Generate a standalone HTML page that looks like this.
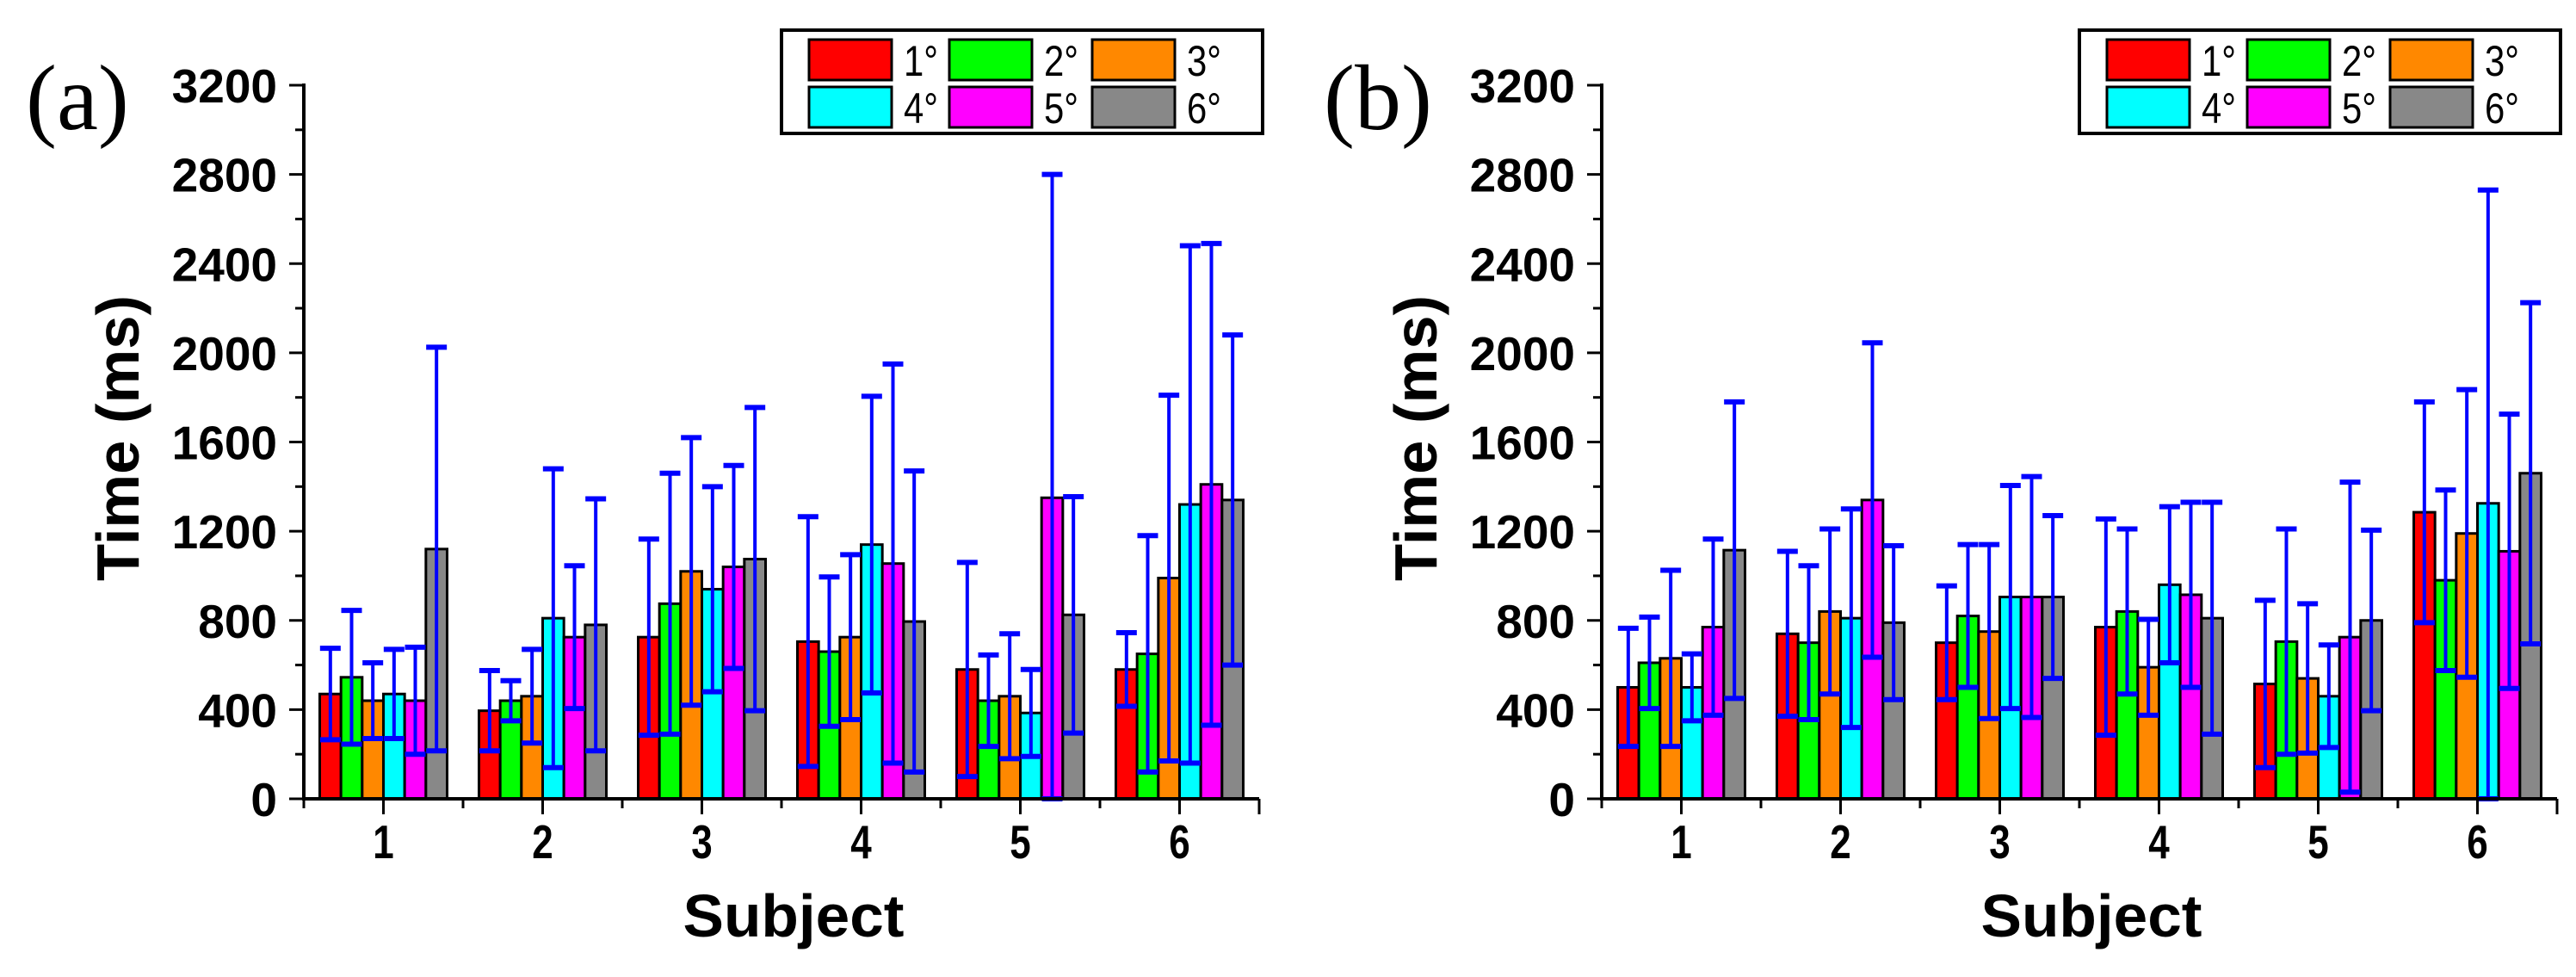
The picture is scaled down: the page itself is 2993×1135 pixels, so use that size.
<!DOCTYPE html>
<html><head><meta charset="utf-8"><style>
html,body{margin:0;padding:0;background:#fff;}
svg{display:block;}
</style></head><body>
<svg id="chart" width="2993" height="1135" viewBox="0 0 2993 1135" xmlns="http://www.w3.org/2000/svg">
<g id="root"></g>
</svg>
<script>
const categories = ["1","2","3","4","5","6"];
const seriesNames = ["1°","2°","3°","4°","5°","6°"];
const seriesColors = ["#ff0000","#00ff00","#ff8800","#00ffff","#ff00ff","#888888"];
const yTicks = [0,400,800,1200,1600,2000,2400,2800,3200];
// panel (a) means per subject (rows) per angle (cols)
const meansA = [
 [470,545,440,470,440,1120],
 [395,440,460,810,725,780],
 [725,875,1020,940,1040,1075],
 [705,660,725,1140,1055,795],
 [580,440,460,385,1350,825],
 [580,650,990,1320,1410,1340]
];
const errA = [
 [205,300,170,200,240,905],
 [180,90,210,670,320,565],
 [440,585,600,460,455,680],
 [560,335,370,665,895,675],
 [480,205,280,195,1450,530],
 [165,530,820,1160,1080,740]
];
const meansB = [
 [500,610,630,500,770,1115],
 [740,700,840,810,1340,790],
 [700,820,750,905,905,905],
 [770,840,590,960,915,810],
 [515,705,540,460,725,800],
 [1285,980,1190,1325,1110,1460]
];
const errB = [
 [265,205,395,150,395,665],
 [370,345,370,490,705,345],
 [255,320,390,500,540,365],
 [485,370,215,350,415,520],
 [375,505,335,230,695,405],
 [495,405,645,1405,615,765]
];

const NS="http://www.w3.org/2000/svg";
const root=document.getElementById('root');
function mk(tag,attrs,parent){const e=document.createElementNS(NS,tag);for(const k in attrs)e.setAttribute(k,attrs[k]);(parent||root).appendChild(e);return e;}

function drawPanel(offset,label,means,errs,key){
  const X0=353+offset, X1=1463+offset, Y0=928, Ytop=99, YMAX=3200;
  const catW=(X1-X0)/6;
  const yS=v=>Y0-(v/YMAX)*(Y0-Ytop);
  const xS=i=>X0+catW*(i+0.5);
  const g=mk('g',{});
  
  
  const bw=catW*0.8/6;
  for(let c=0;c<categories.length;c++){
    for(let s=0;s<seriesNames.length;s++){
      const v=means[c][s];
      const x=xS(c)-catW*0.4+s*bw;
      const r=mk('rect',{x:x,y:yS(v),width:bw,height:Y0-yS(v),fill:seriesColors[s],stroke:'#000','stroke-width':3},g);
      
      
    }
  }
  for(let c=0;c<categories.length;c++){
    for(let s=0;s<seriesNames.length;s++){
      const v=means[c][s], e=errs[c][s];
      const cx=xS(c)-catW*0.4+(s+0.5)*bw;
      const hi=yS(v+e), lo=yS(Math.max(0,v-e));
      const eg=mk('g',{},g);
      
      
      mk('line',{x1:cx,x2:cx,y1:hi,y2:lo,stroke:'#0000ff','stroke-width':4},eg);
      mk('line',{x1:cx-12,x2:cx+12,y1:hi,y2:hi,stroke:'#0000ff','stroke-width':6},eg);
      mk('line',{x1:cx-12,x2:cx+12,y1:lo,y2:lo,stroke:'#0000ff','stroke-width':6},eg);
    }
  }
  const ya=mk('line',{x1:X0,x2:X0,y1:Ytop-2,y2:Y0+2,stroke:'#000','stroke-width':4},g);
  
  const xa=mk('line',{x1:X0-2,x2:X1,y1:Y0,y2:Y0,stroke:'#000','stroke-width':4},g);
  
  mk('line',{x1:X1,x2:X1,y1:Y0,y2:Y0+18,stroke:'#000','stroke-width':3},g);
  for(let i=0;i<yTicks.length;i++){
    const y=yS(yTicks[i]);
    mk('line',{x1:X0-17,x2:X0,y1:y,y2:y,stroke:'#000','stroke-width':3},g);
    if(i<yTicks.length-1){const ym=yS(yTicks[i]+200);mk('line',{x1:X0-10,x2:X0,y1:ym,y2:ym,stroke:'#000','stroke-width':3},g);}
    const t=mk('text',{x:X0-31,y:y+20,'text-anchor':'end','font-family':'Liberation Sans, sans-serif','font-weight':'bold','font-size':55},g);
    t.textContent=yTicks[i];
    
  }
  for(let c=0;c<categories.length;c++){
    const x=xS(c);
    mk('line',{x1:x,x2:x,y1:Y0,y2:Y0+18,stroke:'#000','stroke-width':3},g);
    mk('line',{x1:X0+catW*c,x2:X0+catW*c,y1:Y0,y2:Y0+11,stroke:'#000','stroke-width':3},g);
    const t=mk('text',{x:x,y:997,'text-anchor':'middle','font-family':'Liberation Sans, sans-serif','font-weight':'bold','font-size':55,transform:`translate(${x} 0) scale(0.8 1) translate(${-x} 0)`},g);
    t.textContent=categories[c];
    
  }
  const xt=mk('text',{x:922+offset,y:1088,'text-anchor':'middle','font-family':'Liberation Sans, sans-serif','font-weight':'bold','font-size':70,textLength:257,lengthAdjust:'spacingAndGlyphs'},g);
  xt.textContent='Subject';
  
  const yt=mk('text',{x:0,y:0,'text-anchor':'middle','font-family':'Liberation Sans, sans-serif','font-weight':'bold','font-size':70,textLength:332,lengthAdjust:'spacingAndGlyphs',transform:`translate(${161+offset} 509) rotate(-90)`},g);
  yt.textContent='Time (ms)';
  
  const pl=mk('text',{x:30+offset,y:150,'font-family':'Liberation Serif, serif','font-size':108},g);
  pl.textContent=label;
  
  const lg=mk('g',{},g);
  
  const LX=908+offset;
  mk('rect',{x:LX,y:35,width:1467-908,height:120,fill:'#fff',stroke:'#000','stroke-width':4},lg);
  const colX=[940,1103,1269];
  for(let s=0;s<seriesNames.length;s++){
    const col=s%3,row=Math.floor(s/3);
    const sx=colX[col]+offset, sy=row?101:46;
    const le=mk('g',{},lg);
    
    mk('rect',{x:sx,y:sy,width:96,height:47,fill:seriesColors[s],stroke:'#000','stroke-width':3},le);
    const t=mk('text',{x:sx+110,y:sy+42,'font-family':'Liberation Sans, sans-serif','font-size':50,textLength:40,lengthAdjust:'spacingAndGlyphs'},le);
    t.textContent=seriesNames[s];
  }
}
drawPanel(0,'(a)',meansA,errA,'a');
drawPanel(1508,'(b)',meansB,errB,'b');
</script>
</body></html>
